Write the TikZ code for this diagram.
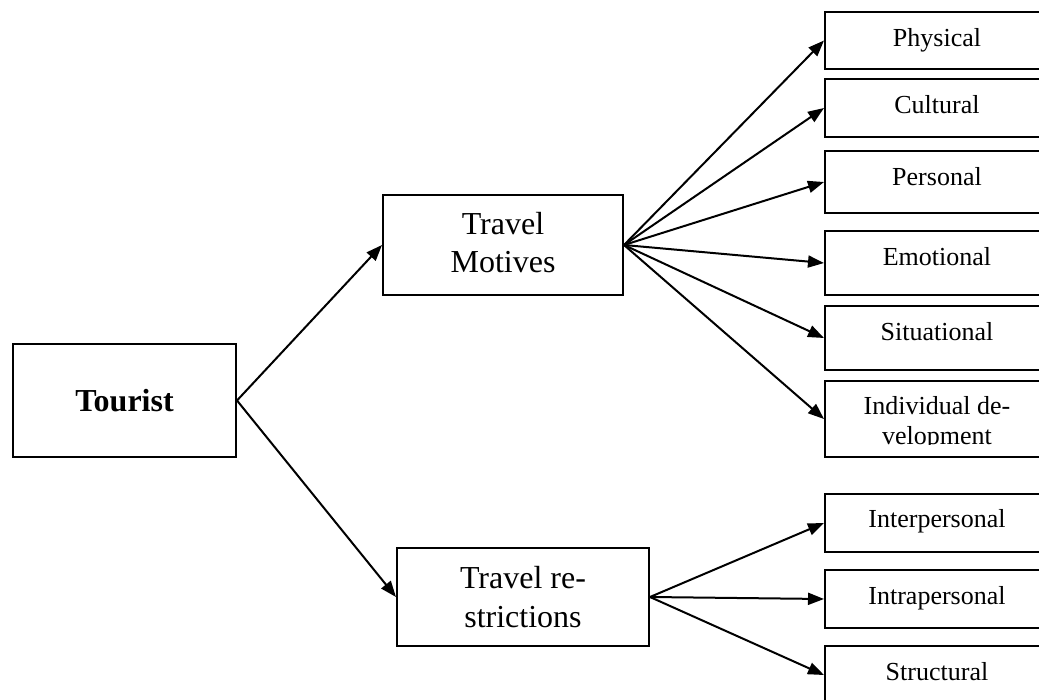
\documentclass[tikz,border=0pt]{standalone}
\usepackage{fontspec}
\setmainfont{Liberation Serif}
\usetikzlibrary{arrows.meta}
\tikzset{
  box/.style={draw, line width=2pt, rectangle, inner sep=0pt},
  smallbox/.style={box, minimum width=224pt},
  smalltext/.style={anchor=base, inner sep=0pt, font=\fontsize{26}{30}\selectfont},
  midtext/.style={anchor=base, inner sep=0pt, font=\fontsize{32}{38}\selectfont},
  link/.style={line width=2pt, -{Triangle[length=16pt,width=12pt]}},
}
\begin{document}
\begin{tikzpicture}[x=1pt,y=-1pt]
\clip (0,0) rectangle (1039,700);
\fill[white] (0,0) rectangle (1039,700);
% main boxes
\node[box, minimum width=223pt, minimum height=113pt] (tour) at (124.5,400.5) {};
\node[anchor=base, inner sep=0pt, font=\fontsize{32}{38}\selectfont\bfseries] (tourt) at (124.5,412) {Tourist};
\node[box, minimum width=240pt, minimum height=100pt] (mot) at (503,245) {};
\node[midtext] (mot1) at (503,235) {Travel};
\node[midtext] (mot2) at (503,273) {Motives};
\node[box, minimum width=252pt, minimum height=98pt] (res) at (523,597) {};
\node[midtext] (res1) at (523,588) {Travel re-};
\node[midtext] (res2) at (523,627.5) {strictions};
% right boxes
\node[smallbox, minimum height=57pt] (phys) at (937,40.5) {};
\node[smalltext] (physt) at (937,47) {Physical};
\node[smallbox, minimum height=58pt] (cult) at (937,108) {};
\node[smalltext] (cultt) at (937,114) {Cultural};
\node[smallbox, minimum height=62pt] (pers) at (937,182) {};
\node[smalltext] (perst) at (937,186) {Personal};
\node[smallbox, minimum height=64pt] (emot) at (937,263) {};
\node[smalltext] (emott) at (937,266) {Emotional};
\node[smallbox, minimum height=64pt] (situ) at (937,338) {};
\node[smalltext] (situt) at (937,341) {Situational};
\node[smallbox, minimum height=76pt] (indi) at (937,419) {};
\node[smalltext] (indit1) at (937,415) {Individual de-};
\begin{scope}
\clip (826,381) rectangle (1049,445);
\node[smalltext] (indit2) at (937,444) {velopment};
\end{scope}
\node[smallbox, minimum height=58pt] (inter) at (937,523) {};
\node[smalltext] (intert) at (937,527) {Interpersonal};
\node[smallbox, minimum height=58pt] (intra) at (937,599) {};
\node[smalltext] (intrat) at (937,604) {Intrapersonal};
\node[smallbox, minimum height=58pt] (struc) at (937,675) {};
\node[smalltext] (struct) at (937,680) {Structural};
% connectors
\draw[link] (tour.east) -- (mot.west);
\draw[link] (tour.east) -- (res.west);
\foreach \t in {phys,cult,pers,emot,situ,indi}
  \draw[link] (mot.east) -- (\t.west);
\foreach \t in {inter,intra,struc}
  \draw[link] (res.east) -- (\t.west);
\end{tikzpicture}
\end{document}
